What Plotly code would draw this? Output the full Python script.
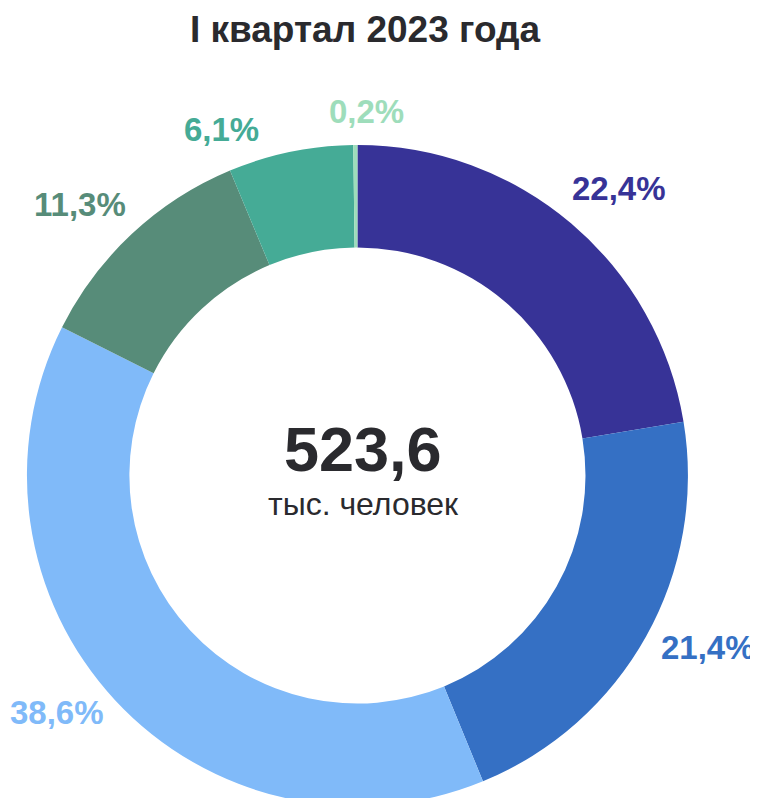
import math
import plotly.graph_objects as go

# Данные
categories = ["Группа 1", "Группа 2", "Группа 3", "Группа 4", "Группа 5", "Группа 6"]
shares = [22.4, 21.4, 38.6, 11.3, 6.1, 0.2]
colors = ["#373397", "#3570C4", "#80BAF9", "#578C79", "#45AB96", "#9EDDBB"]
total_value = "523,6"
total_unit = "тыс. человек"
title_text = "I квартал 2023 года"

FONT = "Liberation Sans, Arial, sans-serif"
W, H = 758, 798
M_TOP = 137
CX = 0.461          # центр кольца по x, доля ширины
LABEL_SIZE = 33
# небольшой разнос подписей по углу (градусы) и по радиусу (px)
label_nudge = [2, -3, 4.5, -2.7, -9.7, 1.8]
label_shift = [0, -3.5, -9, -2, -1, 2.5]

plot_h = H - M_TOP
half_w = plot_h / W / 2
radius_px = plot_h / 2
cy_paper = 0.5

fig = go.Figure(
    go.Pie(
        labels=categories,
        values=shares,
        sort=False,
        direction="clockwise",
        rotation=0,
        hole=0.69,
        marker=dict(colors=colors, line=dict(width=0)),
        textposition="none",
        hoverinfo="label+value",
        showlegend=False,
        domain=dict(x=[CX - half_w, CX + half_w], y=[0, 1]),
    )
)

# ── Подписи долей снаружи кольца ──────────────────────────────────
total = sum(shares)
cum = 0.0
for share, color, nudge, shift in zip(shares, colors, label_nudge, label_shift):
    mid = (cum + share / 2) / total * 2 * math.pi + math.radians(nudge)
    cum += share
    text = f"{share:.1f}".replace(".", ",") + "%"
    # примерная ширина текста (Arial bold)
    w_em = sum(0.278 if ch == "," else 0.889 if ch == "%" else 0.556 for ch in text)
    hw = w_em * LABEL_SIZE / 2
    hh = LABEL_SIZE * 0.42
    s, c = math.sin(mid), math.cos(mid)
    dist = radius_px + 16 + hw * abs(s) + hh * abs(c) + shift
    fig.add_annotation(
        text=f"<b>{text}</b>",
        x=CX, y=cy_paper, xref="paper", yref="paper",
        xshift=dist * s, yshift=dist * c,
        xanchor="center", yanchor="middle",
        showarrow=False,
        font=dict(family=FONT, size=LABEL_SIZE, color=color),
    )

# ── Итог в центре ──────────────────────────────────────────────────
fig.add_annotation(
    text=f"<b>{total_value}</b>",
    x=CX, y=cy_paper, xref="paper", yref="paper",
    xanchor="center", yanchor="bottom",
    showarrow=False,
    font=dict(family=FONT, size=63, color="#2A2A2E"),
    xshift=6, yshift=-10,
)
fig.add_annotation(
    text=total_unit,
    x=CX, y=cy_paper, xref="paper", yref="paper",
    xanchor="center", yanchor="top",
    showarrow=False,
    font=dict(family=FONT, size=32, color="#2A2A2E"),
    xshift=6, yshift=-8,
)

fig.update_layout(
    title=dict(
        text=f"<b>{title_text}</b>",
        x=0.471, xanchor="center",
        y=0.99, yanchor="top",
        font=dict(family=FONT, size=37, color="#2A2A2E"),
    ),
    width=W,
    height=H,
    paper_bgcolor="white",
    plot_bgcolor="white",
    margin=dict(l=0, r=0, t=M_TOP, b=0),
)

fig.write_html("out.html")
